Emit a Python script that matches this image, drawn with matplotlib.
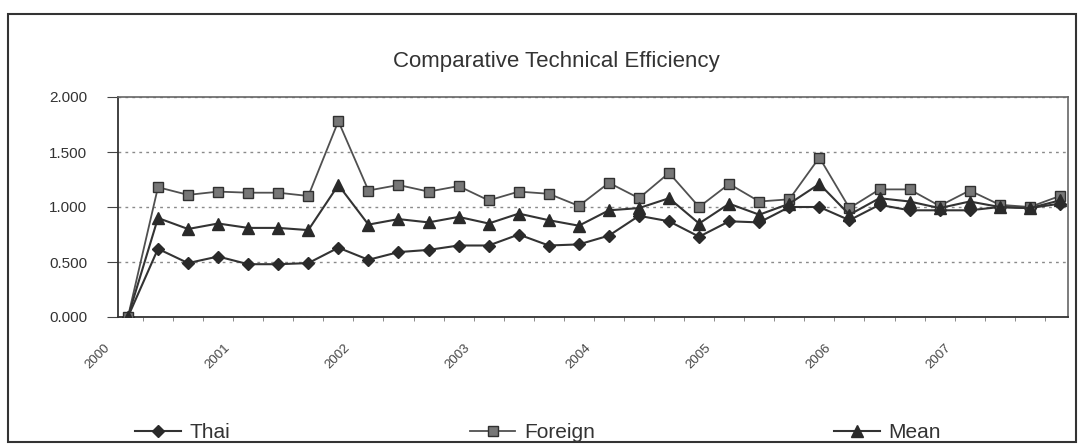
import numpy as np
import matplotlib
matplotlib.use('Agg')
import matplotlib.pyplot as plt
import matplotlib.transforms as mtransforms
from matplotlib.patches import Rectangle

plt.rcParams['font.family'] = ['Liberation Sans', 'DejaVu Sans']

# Quarterly values, 2000 Q1 .. 2007 Q4
thai = [0.00, 0.62, 0.49, 0.55, 0.48, 0.48, 0.49, 0.63,
        0.52, 0.59, 0.61, 0.65, 0.65, 0.75, 0.65, 0.66,
        0.74, 0.92, 0.87, 0.73, 0.87, 0.86, 1.00, 1.00,
        0.88, 1.02, 0.97, 0.97, 0.97, 1.00, 0.99, 1.03]
foreign = [0.00, 1.18, 1.11, 1.14, 1.13, 1.13, 1.10, 1.78,
           1.15, 1.20, 1.14, 1.19, 1.06, 1.14, 1.12, 1.01,
           1.22, 1.08, 1.31, 1.00, 1.21, 1.05, 1.07, 1.45,
           0.99, 1.16, 1.16, 1.01, 1.15, 1.02, 1.00, 1.10]
mean = [0.00, 0.90, 0.80, 0.85, 0.81, 0.81, 0.79, 1.20,
        0.84, 0.89, 0.86, 0.91, 0.85, 0.94, 0.88, 0.83,
        0.97, 0.99, 1.08, 0.85, 1.03, 0.93, 1.03, 1.21,
        0.93, 1.08, 1.05, 0.99, 1.05, 1.00, 0.99, 1.06]
years = ['2000', '2001', '2002', '2003', '2004', '2005', '2006', '2007']
yticks = [0.0, 0.5, 1.0, 1.5, 2.0]

W, H = 1081, 447
fig = plt.figure(figsize=(W / 100, H / 100), dpi=100)
ax = fig.add_axes([118 / W, 130 / H, 950 / W, 220 / H])

x = np.arange(len(thai))
line_col = '#333333'
ax.plot(x, thai, color=line_col, lw=1.5, marker='D', ms=6.5,
        mfc='#2a2a2a', mec='#2a2a2a', label='Thai', zorder=3)
ax.plot(x, foreign, color='#505050', lw=1.3, marker='s', ms=7.5,
        mfc='#777777', mec='#303030', mew=1, label='Foreign', zorder=3)
ax.plot(x, mean, color=line_col, lw=1.5, marker='^', ms=8,
        mfc='#2a2a2a', mec='#2a2a2a', label='Mean', zorder=3)

ax.set_xlim(-0.33, len(thai) - 1 + 0.27)
ax.set_ylim(0, 2.0)
ax.set_yticks(yticks)
ax.set_yticklabels([f'{v:.3f}' for v in yticks], fontsize=11, color='#333333')
ax.yaxis.grid(True, linestyle=(0, (2, 3)), color='#8a8a8a', lw=1)
ax.set_axisbelow(True)

# year labels every 4 quarters
ax.set_xticks(x[::4])
ax.set_xticklabels(years, rotation=45, ha='right', va='top',
                   fontsize=9.5, color='#444444')
ax.set_xticks(np.arange(len(thai) - 1) + 0.5, minor=True)
ax.tick_params(axis='x', which='major', length=0, pad=18)
ax.tick_params(axis='x', which='minor', length=3, color='#777777')
ax.tick_params(axis='y', length=8, pad=14, direction='out', color='#444444')
offset = mtransforms.ScaledTranslation(-0.16, 0, fig.dpi_scale_trans)
for lab in ax.get_xticklabels():
    lab.set_transform(lab.get_transform() + offset)

for side in ['left', 'bottom']:
    ax.spines[side].set_color('#333333')
    ax.spines[side].set_linewidth(1.3)
for side in ['top', 'right']:
    ax.spines[side].set_color('#666666')
    ax.spines[side].set_linewidth(1.2)

fig.text(556 / W, 1 - 62 / H, 'Comparative Technical Efficiency',
         ha='center', va='center', fontsize=16, color='#333333')

handles, labels = ax.get_legend_handles_labels()
fig.legend(handles, labels, loc='center', bbox_to_anchor=(538 / W, 1 - 433 / H),
           ncol=3, frameon=False, fontsize=15, handlelength=2.2,
           columnspacing=11.5, handletextpad=0.4, labelcolor='#333333')

# outer chart border
fig.patches.append(Rectangle((8 / W, 5 / H), 1068 / W, 428 / H,
                             transform=fig.transFigure, fill=False,
                             edgecolor='#333333', lw=1.5))

plt.savefig('out.png', dpi=100)
